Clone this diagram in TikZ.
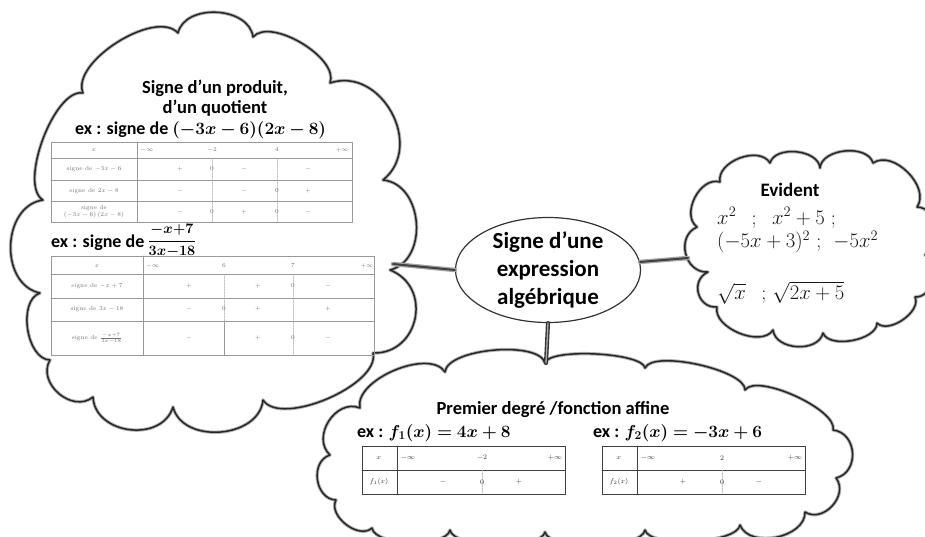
\documentclass[tikz,border=0pt]{standalone}
\usepackage[no-math]{fontspec}
\usepackage{bm}
\newfontfamily\carlito{Carlito}
\usetikzlibrary{shapes.geometric}

\tikzset{
  bulge/.style={bend right=80, looseness=#1},
  cloudline/.style={draw=black!85, line width=1.5pt, preaction={draw=black!30, line width=3.4pt}},
  linkline/.style={draw=black!75, line width=2pt, preaction={draw=black!35, line width=4.5pt}},
  headtext/.style={font=\carlito\bfseries\fontsize{#1}{20}\selectfont, align=center, inner sep=0pt},
  exline/.style={font=\carlito\bfseries\fontsize{18}{20}\selectfont, inner sep=0pt, anchor=west},
  tabline/.style={draw=black!40, line width=0.6pt},
  tabdark/.style={draw=black!75, line width=0.7pt},
  tabdot/.style={draw=black!30, densely dotted, line width=0.5pt},
  tabcell/.style={font=\fontsize{6}{7}\selectfont, text=black!55, inner sep=0pt, align=center},
  tabcelldark/.style={font=\fontsize{7.5}{9}\selectfont, text=black!80, inner sep=0pt},
  mathline/.style={font=\fontsize{20}{24}\selectfont, text=black!90, inner sep=0pt, anchor=west}
}

\begin{document}
\begin{tikzpicture}[x=1pt, y=-1pt, line join=round, line cap=round]
  \useasboundingbox (0,0) rectangle (925,536);

  % clouds
  \draw[cloudline] (253,37) to[bulge=1.05] (178,33) to[bulge=0.76] (83,93) to[bulge=0.65] (43,200)
    to[bulge=1.15] (40,293) to[bulge=0.9] (50,360) to[bulge=1.2] (93,397) to[bulge=1.2] (173,407)
    to[bulge=1.1] (263,400) to[bulge=0.7] (373,353) to[bulge=1.4] (390,270) to[bulge=1.15] (383,180)
    to[bulge=1.25] (330,83) to[bulge=0.76] (253,37) -- cycle;
  \draw[cloudline] (873,163) to[bulge=0.95] (820,168) to[bulge=0.95] (770,163) to[bulge=1] (720,182)
    to[bulge=1.05] (697,227) to[bulge=1.3] (708,272) to[bulge=1.4] (717,307) to[bulge=0.9] (773,330)
    to[bulge=1.05] (823,333) to[bulge=0.8] (877,323) to[bulge=0.9] (915,297) to[bulge=1.1] (925,255)
    to[bulge=1.1] (917,207) to[bulge=1] (873,163) -- cycle;
  \draw[cloudline] (545,363) to[bulge=0.6] (445,372) to[bulge=0.8] (360,408) to[bulge=1.2] (330,455)
    to[bulge=1.2] (336,500) to[bulge=1] (372,528) to[bulge=0.6] (450,530) to[bulge=0.5] (545,532)
    to[bulge=0.5] (645,530) to[bulge=0.5] (740,525) to[bulge=1] (805,512) to[bulge=1.2] (836,478)
    to[bulge=1.3] (833,430) to[bulge=0.55] (745,390) to[bulge=0.5] (645,368) to[bulge=0.4] (545,363) -- cycle;

  \coordinate (leftend) at (393,264);
  \coordinate (rightend) at (688,258);
  \coordinate (bottomend) at (546,363);

  % centre
  \node[ellipse, draw=black!80, line width=1.2pt, minimum width=185pt, minimum height=105pt, inner sep=-6pt,
    align=center, font=\carlito\bfseries\fontsize{23}{28}\selectfont] (expr) at (548,270)
    {Signe d’une\\expression\\algébrique};
  \draw[linkline] (expr.west) -- (leftend);
  \draw[linkline] (expr.5) -- (rightend);
  \draw[draw=black!80, line width=1.4pt, double=black!35, double distance=1.3pt] (expr.south) -- (bottomend);

  % produit, quotient
  \node[headtext=18.5] (prodtitle) at (215,98) {Signe d’un produit,\\d’un quotient};
  \node[exline] (ex1) at (75,130) {ex : signe de \fontsize{17}{20}\selectfont$\bm{(-3x-6)(2x-8)}$};
  \draw[tabline] (51,142) rectangle (352,222);
  \draw[tabline] (137,142) -- (137,222);
  \foreach \y in {158,180,201} \draw[tabline] (51,\y) -- (352,\y);
  \foreach \x in {212,277} \draw[tabdot] (\x,158) -- (\x,222);
  \node[tabcell] (t1x) at (94,150) {$x$};
  \foreach \x/\v in {147/-\infty,212/-2,277/4,342/+\infty} \node[tabcell] (t1h\x) at (\x,150) {$\v$};
  \node[tabcell] (t1a) at (94,169) {signe de $-3x-6$};
  \node[tabcell] (t1b) at (94,191) {signe de $2x-8$};
  \node[tabcell] (t1c) at (94,212) {signe de\\$(-3x-6)\,(2x-8)$};
  \foreach \x/\s in {180/+,212/0,244/-,308/-} \node[tabcell] (t1a\x) at (\x,169) {$\s$};
  \foreach \x/\s in {180/-,244/-,277/0,308/+} \node[tabcell] (t1b\x) at (\x,191) {$\s$};
  \foreach \x/\s in {180/-,212/0,244/+,277/0,308/-} \node[tabcell] (t1c\x) at (\x,212) {$\s$};

  \node[exline] (ex2) at (51,243) {ex : signe de};
  \node[font=\fontsize{15}{17}\selectfont, inner sep=0pt] (frac2) at (172,241) {$\displaystyle\bm{\frac{-x{+}7}{3x{-}18}}$};
  \draw[tabline] (51,256) rectangle (374,355);
  \draw[tabline] (143,256) -- (143,355);
  \foreach \y in {274,298,321} \draw[tabline] (51,\y) -- (374,\y);
  \draw[tabdot] (224,274) -- (224,321);
  \draw[tabdot] (293,274) -- (293,355);
  \draw[tabline] (224,321) -- (224,355);
  \node[tabcell] (t2x) at (97,266) {$x$};
  \foreach \x/\v in {153/-\infty,224/6,293/7,367/+\infty} \node[tabcell] (t2h\x) at (\x,266) {$\v$};
  \node[tabcell] (t2a) at (97,286) {signe de $-x+7$};
  \node[tabcell] (t2b) at (97,309) {signe de $3x-18$};
  \node[tabcell] (t2c) at (97,338) {signe de $\frac{-x+7}{3x-18}$};
  \foreach \x/\s in {189/+,258/+,293/0,328/-} \node[tabcell] (t2a\x) at (\x,286) {$\s$};
  \foreach \x/\s in {189/-,224/0,258/+,328/+} \node[tabcell] (t2b\x) at (\x,309) {$\s$};
  \foreach \x/\s in {189/-,258/+,293/0,328/-} \node[tabcell] (t2c\x) at (\x,338) {$\s$};

  % evident
  \node[headtext=19] (evident) at (790,190) {Evident};
  \node[mathline] (sq1) at (717,218) {$x^2$ \ \,; \ \,$x^2+5$ ;};
  \node[mathline] (sq2) at (717,242) {$(-5x+3)^2$ ; \ $-5x^2$};
  \node[mathline] (sq3) at (717,293) {$\sqrt{x}$ \ \,; $\sqrt{2x+5}$};

  % premier degre
  \node[headtext=18.5] (affine) at (553,410) {Premier degré /fonction affine};
  \node[exline] (ex3) at (357,433) {ex : \fontsize{17}{20}\selectfont$\bm{f_1(x)=4x+8}$};
  \node[exline] (ex4) at (593,433) {ex : \fontsize{17}{20}\selectfont$\bm{f_2(x)=-3x+6}$};
  \foreach \dx/\idx/\zr/\sa/\sb in {0/1/-2/-/+, 240/2/2/+/-} {
    \begin{scope}[xshift=\dx]
      \draw[tabdark] (362,446) rectangle (565,494);
      \draw[tabdark] (397,446) -- (397,494);
      \draw[tabdark] (362,470) -- (565,470);
      \draw[tabdot] (482,470) -- (482,494);
      \node[tabcelldark] (f\idx x) at (379,458) {$x$};
      \node[tabcelldark] (f\idx m) at (408,458) {$-\infty$};
      \node[tabcelldark] (f\idx r) at (482,458) {$\zr$};
      \node[tabcelldark] (f\idx p) at (555,458) {$+\infty$};
      \node[tabcelldark] (f\idx f) at (379,482) {$f_\idx(x)$};
      \node[tabcelldark] (f\idx a) at (443,482) {$\sa$};
      \node[tabcelldark] (f\idx z) at (482,482) {$0$};
      \node[tabcelldark] (f\idx b) at (519,482) {$\sb$};
    \end{scope}
  }
\end{tikzpicture}
\end{document}
